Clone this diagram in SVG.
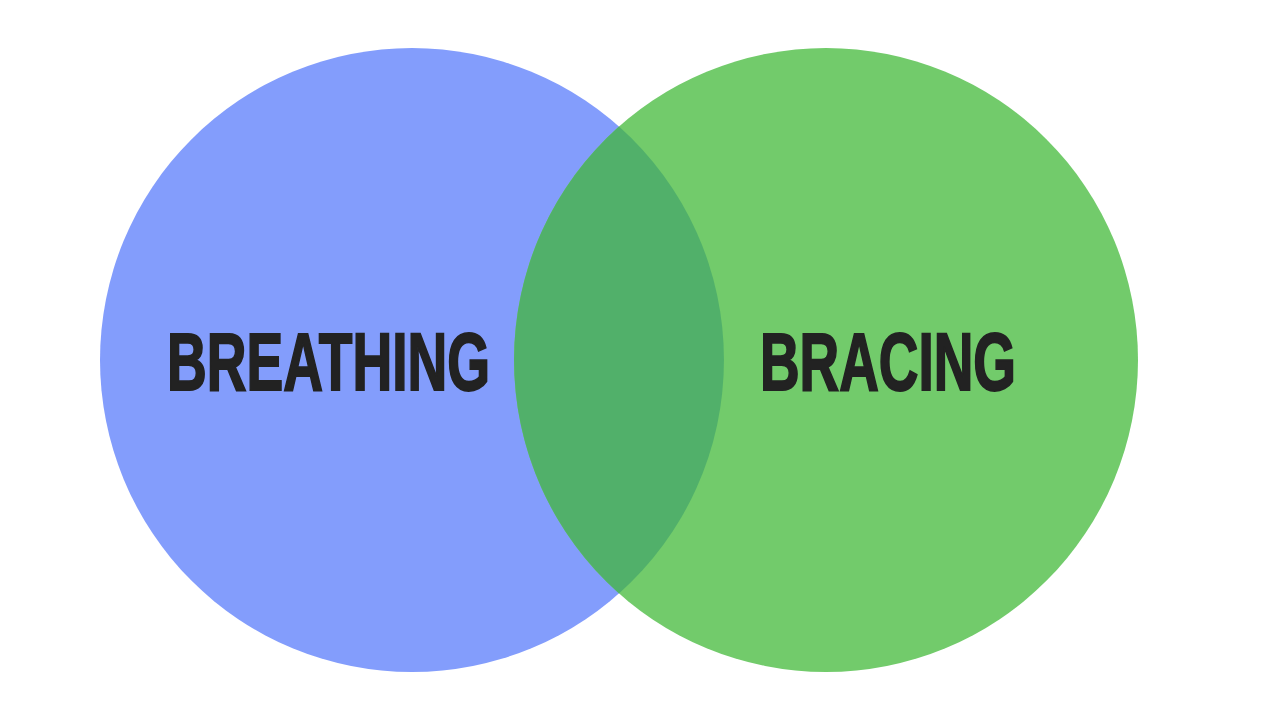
<svg xmlns="http://www.w3.org/2000/svg" width="1280" height="720" viewBox="0 0 1280 720">
<style>
.lbl{font-family:"Liberation Sans Narrow","Liberation Sans","DejaVu Sans Condensed",sans-serif;font-weight:bold;font-size:81px;fill:#222222;stroke:#222222;stroke-width:2;stroke-linejoin:miter;}
</style>
<rect width="1280" height="720" fill="#ffffff"/>
<g id="breathing">
<circle cx="412" cy="360" r="312" fill="#839DFC"/>
</g>
<g id="bracing">
<circle cx="826" cy="360" r="312" fill="#72CB6B"/>
</g>
<g id="overlap">
<path d="M619,126.6 A312,312 0 0,1 619,593.4 A312,312 0 0,1 619,126.6 Z" fill="#51B06A"/>
</g>
<g id="labels">
<text class="lbl" x="167" y="390" textLength="323" lengthAdjust="spacingAndGlyphs">BREATHING</text>
<text class="lbl" x="760" y="390" textLength="256" lengthAdjust="spacingAndGlyphs">BRACING</text>
</g>
<g id="connectors"/>
</svg>
